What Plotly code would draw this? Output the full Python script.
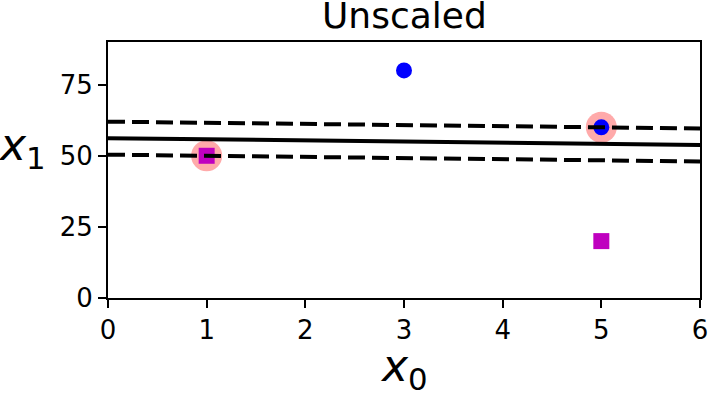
import plotly.graph_objects as go

# Data
class1_x = [3, 5]      # blue circles
class1_y = [80, 60]
class0_x = [1, 5]      # magenta squares
class0_y = [50, 20]
sv_x = [1, 5]          # support vectors
sv_y = [50, 60]
boundary_x = [0, 6]
boundary_y = [56.2, 53.8]
margin_up_y = [62.0, 59.6]
margin_down_y = [50.4, 48.0]
x_ticks = [0, 1, 2, 3, 4, 5, 6]
y_ticks = [0, 25, 50, 75]

FONT = "DejaVu Sans"

fig = go.Figure()
fig.add_trace(go.Scatter(x=sv_x, y=sv_y, mode="markers",
                         marker=dict(size=31, color="#FFAAAA", line=dict(width=0))))
fig.add_trace(go.Scatter(x=class1_x, y=class1_y, mode="markers",
                         marker=dict(size=16, color="blue", symbol="circle", line=dict(width=0))))
fig.add_trace(go.Scatter(x=class0_x, y=class0_y, mode="markers",
                         marker=dict(size=16, color="#BF00BF", symbol="square", line=dict(width=0))))
fig.add_trace(go.Scatter(x=boundary_x, y=boundary_y, mode="lines",
                         line=dict(color="black", width=4)))
fig.add_trace(go.Scatter(x=boundary_x, y=margin_up_y, mode="lines",
                         line=dict(color="black", width=4, dash="17px,7px")))
fig.add_trace(go.Scatter(x=boundary_x, y=margin_down_y, mode="lines",
                         line=dict(color="black", width=4, dash="17px,7px")))

axis_common = dict(showgrid=False, zeroline=False, showline=True, linecolor="black",
                   linewidth=1.8, mirror=True, ticks="outside", ticklen=8, tickwidth=1.8,
                   tickcolor="black", automargin=False,
                   tickfont=dict(family=FONT, size=26, color="black"))

fig.update_layout(
    width=719, height=393,
    margin=dict(l=108, r=19, t=42, b=95),
    plot_bgcolor="white", paper_bgcolor="white",
    showlegend=False,
    xaxis=dict(range=[0, 6], tickvals=x_ticks, **axis_common),
    yaxis=dict(range=[0, 90], tickvals=y_ticks, **axis_common),
    annotations=[
        dict(text="Unscaled", x=0.5, y=1, xref="paper", yref="paper",
             xanchor="center", yanchor="bottom", yshift=4, showarrow=False,
             font=dict(family=FONT, size=36, color="black")),
        dict(text="<i>x</i><sub>0</sub>", x=0.5, y=0, xref="paper", yref="paper",
             xanchor="center", yanchor="top", yshift=-40, showarrow=False,
             font=dict(family=FONT, size=44, color="black")),
        dict(text="<i>x</i><sub>1</sub>", x=0, y=53, xref="paper", yref="y",
             xanchor="right", yanchor="middle", xshift=-60, showarrow=False,
             font=dict(family=FONT, size=44, color="black")),
    ],
)

fig.write_html("out.html", config={"displayModeBar": False},
               post_script="document.body.style.margin='0';")
